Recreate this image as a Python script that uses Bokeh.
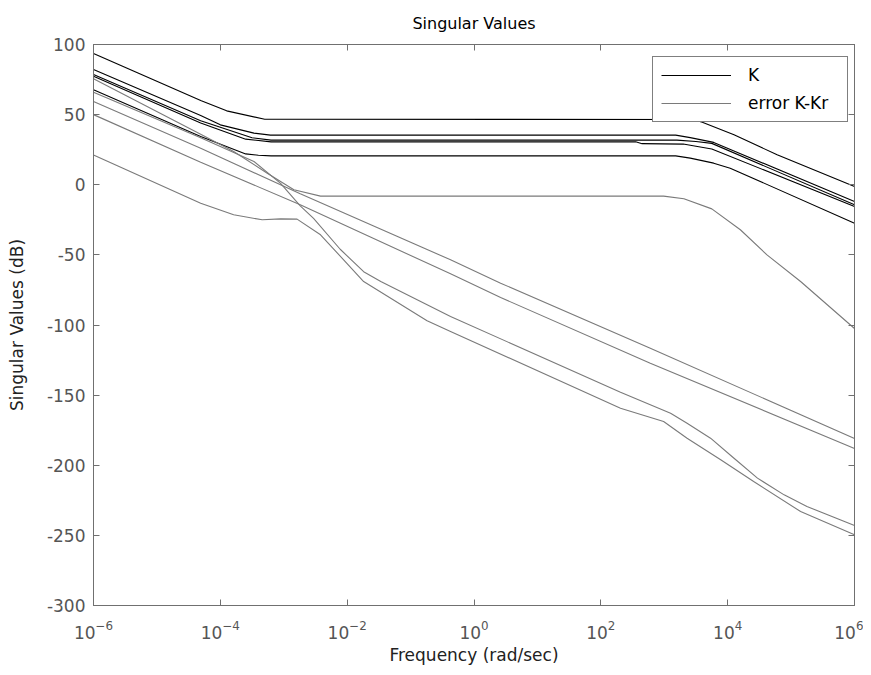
import numpy as np
from bokeh.plotting import figure
from bokeh.models import (Legend, LegendItem, LinearAxis, LogAxis, FixedTicker,
                          Range1d)
from bokeh.embed import file_html
from bokeh.resources import INLINE

# ---- data: log10(frequency rad/s) breakpoints and singular values (dB) ----
# K (full controller), black
K1_LOGW = [-6.0, -4.3, -3.9, -3.3, 3.45, 3.6, 4.1, 4.78, 6.0]
K1_DB   = [93.6, 59.9, 52.7, 46.7, 46.5, 44.5, 35.6, 21.4, -1.2]
K2_LOGW = [-6.0, -4.31, -4.0, -3.47, -3.21, 3.18, 3.41, 3.78, 6.0]
K2_DB   = [82.2, 49.4, 42.7, 36.8, 35.4, 35.4, 33.6, 30.2, -12.0]
K3_LOGW = [-6.0, -4.31, -3.5, -3.2, 3.2, 3.5, 3.75, 6.0]
K3_DB   = [78.6, 45.6, 33.5, 31.8, 31.8, 30.8, 29.5, -14.3]
K4_LOGW = [-6.0, -4.31, -3.6, -3.2, 2.55, 2.65, 3.3, 3.5, 3.75, 6.0]
K4_DB   = [77.3, 44.0, 32.5, 30.6, 30.6, 29.3, 29.0, 27.5, 25.5, -15.5]
K5_LOGW = [-6.0, -4.31, -3.6, -3.4, -3.2, 3.18, 3.41, 3.78, 4.04, 6.0]
K5_DB   = [67.7, 34.4, 22.0, 21.0, 20.6, 20.6, 19.0, 15.4, 11.8, -27.4]

# error K-Kr, gray
E1_LOGW = [-6.0, -4.31, -3.79, -3.26, -2.84, -2.42, 2.99, 3.31, 3.75, 4.20, 4.62, 5.15, 6.0]
E1_DB   = [75.5, 36.0, 23.7, 8.2, -3.6, -8.1, -8.1, -10.0, -17.2, -32.1, -50.0, -69.0, -102.5]
E2_LOGW = [-6.0, -4.31, -3.47, -3.05, -2.74, -2.53, -2.11, -1.74, -1.47, -0.37, 2.31, 2.78, 3.10, 3.36, 3.73, 4.10, 4.47, 4.89, 5.25, 6.0]
E2_DB   = [66.0, 33.5, 16.6, 1.0, -15.0, -24.0, -46.0, -62.0, -69.0, -93.9, -148.0, -156.9, -162.9, -170.0, -180.7, -195.0, -209.2, -221.1, -229.4, -243.0]
E3_LOGW = [-6.0, -4.31, -2.74, -0.37, 0.42, 2.78, 6.0]
E3_DB   = [59.4, 26.1, -6.5, -53.5, -70.2, -116.5, -181.0]
E4_LOGW = [-6.0, -4.31, -2.74, -0.37, 0.42, 2.78, 6.0]
E4_DB   = [50.0, 16.1, -14.3, -63.5, -80.4, -127.2, -188.0]
E5_LOGW = [-6.0, -4.31, -3.79, -3.34, -3.05, -2.79, -2.42, -1.74, -0.74, -0.37, 2.31, 2.99, 3.36, 3.89, 4.41, 5.15, 6.0]
E5_DB   = [21.3, -13.2, -21.4, -25.0, -24.3, -24.5, -35.7, -69.0, -97.0, -104.6, -159.3, -168.8, -180.7, -196.1, -211.6, -233.0, -249.6]

K_CURVES = [(K1_LOGW, K1_DB), (K2_LOGW, K2_DB), (K3_LOGW, K3_DB),
            (K4_LOGW, K4_DB), (K5_LOGW, K5_DB)]
E_CURVES = [(E1_LOGW, E1_DB), (E2_LOGW, E2_DB), (E3_LOGW, E3_DB),
            (E4_LOGW, E4_DB), (E5_LOGW, E5_DB)]

X_TICKS = [1e-6, 1e-4, 1e-2, 1e0, 1e2, 1e4, 1e6]
Y_TICKS = [-300, -250, -200, -150, -100, -50, 0, 50, 100]

FONT = "DejaVu Sans"
AXIS_COLOR = "#707070"
TICK_TEXT = "#555555"

p = figure(frame_width=761, frame_height=561, x_axis_type="log",
           x_range=Range1d(1e-6, 1e6), y_range=Range1d(-300, 100),
           output_backend="svg", toolbar_location=None,
           min_border_left=93, min_border_right=9,
           min_border_top=43, min_border_bottom=66,
           title="Singular Values")
p.title.align = "center"
p.title.text_font = FONT
p.title.text_font_size = "16px"
p.title.text_font_style = "normal"
p.title.text_color = "#000000"
p.title.standoff = 23
p.grid.visible = False
p.background_fill_color = "white"
p.border_fill_color = "white"
p.outline_line_color = AXIS_COLOR

xa = p.xaxis[0]
xa.ticker = FixedTicker(ticks=X_TICKS)
xa.axis_label = "Frequency (rad/sec)"
ya = p.yaxis[0]
ya.ticker = FixedTicker(ticks=Y_TICKS)
ya.major_label_overrides = {t: str(t) for t in Y_TICKS}
ya.axis_label = "Singular Values (dB)"
for ax in (xa, ya):
    ax.major_tick_in = 6
    ax.major_tick_out = 0
    ax.minor_tick_line_color = None
    ax.axis_line_color = AXIS_COLOR
    ax.major_tick_line_color = AXIS_COLOR
    ax.major_label_text_font = FONT
    ax.major_label_text_font_size = "17px"
    ax.major_label_text_color = TICK_TEXT
    ax.axis_label_text_font = FONT
    ax.axis_label_text_font_size = "17px"
    ax.axis_label_text_font_style = "normal"
    ax.axis_label_text_color = "#222222"
xa.major_label_standoff = 14
xa.axis_label_standoff = 3
ya.major_label_standoff = 8
ya.axis_label_standoff = 17

top = LogAxis(ticker=FixedTicker(ticks=X_TICKS), major_label_text_font_size="1px",
              major_label_text_alpha=0.0,
              major_label_standoff=0, major_tick_in=6, major_tick_out=0,
              minor_tick_line_color=None, axis_line_color=AXIS_COLOR,
              major_tick_line_color=AXIS_COLOR)
right = LinearAxis(ticker=FixedTicker(ticks=Y_TICKS), major_label_text_font_size="1px",
                   major_label_text_alpha=0.0,
                   major_label_standoff=0, major_tick_in=6, major_tick_out=0,
                   minor_tick_line_color=None, axis_line_color=AXIS_COLOR,
                   major_tick_line_color=AXIS_COLOR)
p.add_layout(top, "above")
p.add_layout(right, "right")

k_renderers = []
for lw, db in K_CURVES:
    r = p.line(10 ** np.array(lw), db, line_color="#000000", line_width=1.1)
    k_renderers.append(r)
e_renderers = []
for lw, db in E_CURVES:
    r = p.line(10 ** np.array(lw), db, line_color="#7a7a7a", line_width=1.1)
    e_renderers.append(r)

legend = Legend(items=[LegendItem(label="K", renderers=[k_renderers[0]]),
                       LegendItem(label="error K-Kr", renderers=[e_renderers[0]])],
                location=(559, 483), orientation="vertical",
                glyph_width=70, glyph_height=20, label_height=20,
                label_width=91, label_standoff=17, spacing=8, padding=8,
                margin=0,
                label_text_font=FONT, label_text_font_size="17px",
                label_text_color="#000000",
                border_line_color="#000000", border_line_width=1,
                background_fill_color="white", background_fill_alpha=1.0)
p.add_layout(legend, "center")

open("out.html", "w").write(file_html(p, INLINE))
